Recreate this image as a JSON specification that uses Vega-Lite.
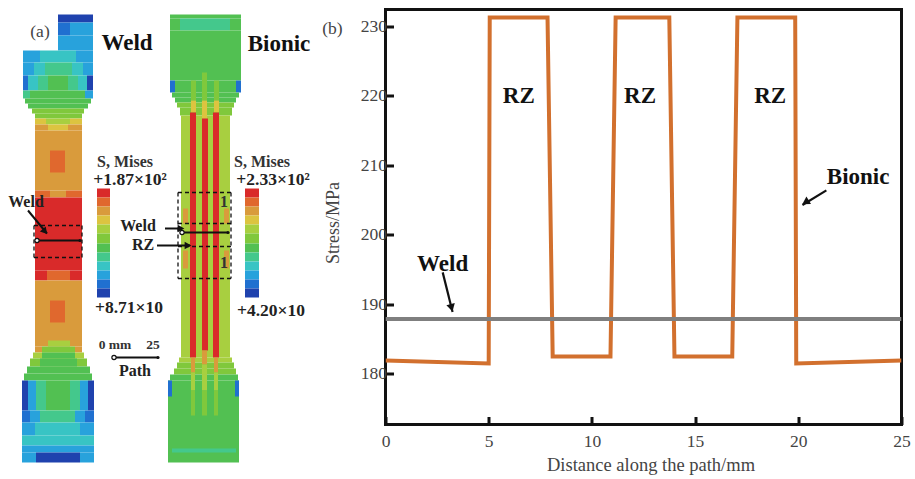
{
"$schema":"https://vega.github.io/schema/vega-lite/v6.json",
"padding":{"left":0,"top":7.5,"right":0,"bottom":0},
"background":"white",
"spacing":0.5,
"resolve":{"scale":{"color":"independent"}},
"config":{"font":"Liberation Serif","text":{"font":"Liberation Serif"}},
"datasets":{
"field":[
{"part":"Weld","x":58,"x2":93,"y":14,"y2":22,"s":1},{"part":"Weld","x":58,"x2":70,"y":22,"y2":35,"s":2},{"part":"Weld","x":70,"x2":93,"y":22,"y2":35,"s":3},{"part":"Weld","x":58,"x2":93,"y":35,"y2":50,"s":3},
{"part":"Weld","x":23,"x2":40,"y":50,"y2":62,"s":3},{"part":"Weld","x":40,"x2":76,"y":50,"y2":62,"s":4},{"part":"Weld","x":76,"x2":93,"y":50,"y2":62,"s":3},
{"part":"Weld","x":23,"x2":34,"y":62,"y2":75,"s":3},{"part":"Weld","x":34,"x2":45,"y":62,"y2":75,"s":4},{"part":"Weld","x":45,"x2":72,"y":62,"y2":75,"s":5},{"part":"Weld","x":72,"x2":83,"y":62,"y2":75,"s":4},{"part":"Weld","x":83,"x2":93,"y":62,"y2":75,"s":3},
{"part":"Weld","x":23,"x2":28,"y":75,"y2":90,"s":2},{"part":"Weld","x":28,"x2":38,"y":75,"y2":90,"s":4},{"part":"Weld","x":38,"x2":48,"y":75,"y2":90,"s":5},{"part":"Weld","x":48,"x2":68,"y":75,"y2":90,"s":6},{"part":"Weld","x":68,"x2":78,"y":75,"y2":90,"s":5},{"part":"Weld","x":78,"x2":87,"y":75,"y2":90,"s":4},{"part":"Weld","x":87,"x2":93,"y":75,"y2":90,"s":1},
{"part":"Weld","x":23,"x2":30,"y":90,"y2":98,"s":5},{"part":"Weld","x":30,"x2":85,"y":90,"y2":98,"s":6},{"part":"Weld","x":85,"x2":93,"y":90,"y2":98,"s":3},
{"part":"Weld","x":25,"x2":91,"y":98,"y2":103,"s":6},{"part":"Weld","x":28,"x2":88,"y":103,"y2":108,"s":6},{"part":"Weld","x":32,"x2":84,"y":108,"y2":113,"s":7},{"part":"Weld","x":35,"x2":82,"y":113,"y2":118,"s":7},
{"part":"Weld","x":35,"x2":46,"y":118,"y2":124,"s":9},{"part":"Weld","x":46,"x2":70,"y":118,"y2":124,"s":8},{"part":"Weld","x":70,"x2":82,"y":118,"y2":124,"s":9},
{"part":"Weld","x":35,"x2":48,"y":124,"y2":130,"s":10},{"part":"Weld","x":48,"x2":68,"y":124,"y2":130,"s":9},{"part":"Weld","x":68,"x2":82,"y":124,"y2":130,"s":10},
{"part":"Weld","x":35,"x2":82,"y":130,"y2":190,"s":10},{"part":"Weld","x":50,"x2":65,"y":150,"y2":172,"s":11},
{"part":"Weld","x":35,"x2":50,"y":190,"y2":197,"s":11},{"part":"Weld","x":50,"x2":66,"y":190,"y2":197,"s":10},{"part":"Weld","x":66,"x2":82,"y":190,"y2":197,"s":11},
{"part":"Weld","x":35,"x2":82,"y":197,"y2":270,"s":12},
{"part":"Weld","x":35,"x2":47,"y":270,"y2":280,"s":12},{"part":"Weld","x":47,"x2":70,"y":270,"y2":280,"s":11},{"part":"Weld","x":70,"x2":82,"y":270,"y2":280,"s":12},
{"part":"Weld","x":35,"x2":82,"y":280,"y2":346,"s":10},{"part":"Weld","x":50,"x2":65,"y":300,"y2":322,"s":11},{"part":"Weld","x":48,"x2":70,"y":340,"y2":346,"s":8},
{"part":"Weld","x":35,"x2":42,"y":346,"y2":352,"s":10},{"part":"Weld","x":42,"x2":75,"y":346,"y2":352,"s":7},{"part":"Weld","x":75,"x2":82,"y":346,"y2":352,"s":10},
{"part":"Weld","x":33,"x2":84,"y":352,"y2":358,"s":8},{"part":"Weld","x":42,"x2":75,"y":352,"y2":358,"s":6},
{"part":"Weld","x":30,"x2":87,"y":358,"y2":366,"s":7},{"part":"Weld","x":40,"x2":77,"y":358,"y2":366,"s":6},
{"part":"Weld","x":27,"x2":90,"y":366,"y2":373,"s":6},{"part":"Weld","x":24,"x2":92,"y":373,"y2":380,"s":6},
{"part":"Weld","x":22,"x2":28,"y":380,"y2":410,"s":1},{"part":"Weld","x":28,"x2":36,"y":380,"y2":410,"s":3},{"part":"Weld","x":36,"x2":46,"y":380,"y2":410,"s":5},{"part":"Weld","x":46,"x2":70,"y":380,"y2":410,"s":6},{"part":"Weld","x":70,"x2":80,"y":380,"y2":410,"s":5},{"part":"Weld","x":80,"x2":88,"y":380,"y2":410,"s":3},{"part":"Weld","x":88,"x2":94,"y":380,"y2":410,"s":1},
{"part":"Weld","x":22,"x2":30,"y":410,"y2":422,"s":2},{"part":"Weld","x":30,"x2":40,"y":410,"y2":422,"s":3},{"part":"Weld","x":40,"x2":75,"y":410,"y2":422,"s":5},{"part":"Weld","x":75,"x2":85,"y":410,"y2":422,"s":3},{"part":"Weld","x":85,"x2":94,"y":410,"y2":422,"s":2},
{"part":"Weld","x":22,"x2":35,"y":422,"y2":435,"s":3},{"part":"Weld","x":35,"x2":80,"y":422,"y2":435,"s":4},{"part":"Weld","x":80,"x2":94,"y":422,"y2":435,"s":3},
{"part":"Weld","x":22,"x2":94,"y":435,"y2":445,"s":4},{"part":"Weld","x":22,"x2":94,"y":445,"y2":452,"s":3},
{"part":"Weld","x":22,"x2":36,"y":452,"y2":462,"s":3},{"part":"Weld","x":36,"x2":80,"y":452,"y2":462,"s":1},{"part":"Weld","x":80,"x2":94,"y":452,"y2":462,"s":3},

{"part":"Bionic","x":170,"x2":241,"y":14,"y2":18,"s":6},{"part":"Bionic","x":170,"x2":180,"y":18,"y2":30,"s":6},{"part":"Bionic","x":180,"x2":230,"y":18,"y2":30,"s":5},{"part":"Bionic","x":230,"x2":241,"y":18,"y2":30,"s":6},
{"part":"Bionic","x":170,"x2":241,"y":30,"y2":80,"s":6},
{"part":"Bionic","x":170,"x2":175,"y":80,"y2":92,"s":2},{"part":"Bionic","x":175,"x2":236,"y":80,"y2":92,"s":6},{"part":"Bionic","x":236,"x2":241,"y":80,"y2":92,"s":2},
{"part":"Bionic","x":172,"x2":239,"y":92,"y2":97,"s":6},{"part":"Bionic","x":175,"x2":236,"y":97,"y2":102,"s":6},{"part":"Bionic","x":177,"x2":234,"y":102,"y2":107,"s":7},{"part":"Bionic","x":180,"x2":232,"y":107,"y2":115,"s":7},
{"part":"Bionic","x":181,"x2":230,"y":115,"y2":357,"s":8},
{"part":"Bionic","x":179,"x2":232,"y":357,"y2":362,"s":8},{"part":"Bionic","x":177,"x2":234,"y":362,"y2":368,"s":7},{"part":"Bionic","x":174,"x2":236,"y":368,"y2":374,"s":7},{"part":"Bionic","x":170,"x2":238,"y":374,"y2":380,"s":6},
{"part":"Bionic","x":168,"x2":239,"y":380,"y2":462,"s":6},{"part":"Bionic","x":168,"x2":172,"y":380,"y2":396,"s":2},{"part":"Bionic","x":235,"x2":239,"y":380,"y2":396,"s":2},{"part":"Bionic","x":172,"x2":236,"y":448,"y2":452,"s":5},
{"part":"Bionic","x":191,"x2":196,"y":80,"y2":100,"s":7},{"part":"Bionic","x":202,"x2":207,"y":72,"y2":100,"s":7},{"part":"Bionic","x":214,"x2":219,"y":80,"y2":100,"s":7},
{"part":"Bionic","x":191,"x2":196,"y":100,"y2":112,"s":9},{"part":"Bionic","x":202,"x2":207,"y":100,"y2":118,"s":9},{"part":"Bionic","x":214,"x2":219,"y":100,"y2":112,"s":9},
{"part":"Bionic","x":190,"x2":196,"y":112,"y2":357,"s":12},{"part":"Bionic","x":202,"x2":208,"y":118,"y2":350,"s":12},{"part":"Bionic","x":213,"x2":219,"y":112,"y2":357,"s":12},
{"part":"Bionic","x":191,"x2":195,"y":357,"y2":372,"s":10},{"part":"Bionic","x":202,"x2":207,"y":350,"y2":364,"s":10},{"part":"Bionic","x":214,"x2":218,"y":357,"y2":372,"s":10},
{"part":"Bionic","x":191,"x2":195,"y":372,"y2":390,"s":8},{"part":"Bionic","x":202,"x2":207,"y":364,"y2":390,"s":8},{"part":"Bionic","x":214,"x2":218,"y":372,"y2":390,"s":8},
{"part":"Bionic","x":191,"x2":195,"y":390,"y2":415,"s":7},{"part":"Bionic","x":202,"x2":207,"y":390,"y2":415,"s":7},{"part":"Bionic","x":214,"x2":218,"y":390,"y2":415,"s":7},
{"part":"Bionic","x":183,"x2":188,"y":208,"y2":223,"s":10},{"part":"Bionic","x":224,"x2":229,"y":208,"y2":223,"s":10},{"part":"Bionic","x":183,"x2":188,"y":250,"y2":268,"s":10},{"part":"Bionic","x":224,"x2":229,"y":250,"y2":268,"s":10},

{"part":"Key","x":97,"x2":110,"y":188,"y2":197,"s":12},{"part":"Key","x":97,"x2":110,"y":197,"y2":206,"s":11},{"part":"Key","x":97,"x2":110,"y":206,"y2":215,"s":10},{"part":"Key","x":97,"x2":110,"y":215,"y2":224,"s":9},{"part":"Key","x":97,"x2":110,"y":224,"y2":233,"s":8},{"part":"Key","x":97,"x2":110,"y":233,"y2":243,"s":7},{"part":"Key","x":97,"x2":110,"y":243,"y2":252,"s":6},{"part":"Key","x":97,"x2":110,"y":252,"y2":261,"s":5},{"part":"Key","x":97,"x2":110,"y":261,"y2":270,"s":4},{"part":"Key","x":97,"x2":110,"y":270,"y2":279,"s":3},{"part":"Key","x":97,"x2":110,"y":279,"y2":288,"s":2},{"part":"Key","x":97,"x2":110,"y":288,"y2":297,"s":1},
{"part":"Key","x":245,"x2":259,"y":188,"y2":197,"s":12},{"part":"Key","x":245,"x2":259,"y":197,"y2":206,"s":11},{"part":"Key","x":245,"x2":259,"y":206,"y2":215,"s":10},{"part":"Key","x":245,"x2":259,"y":215,"y2":224,"s":9},{"part":"Key","x":245,"x2":259,"y":224,"y2":233,"s":8},{"part":"Key","x":245,"x2":259,"y":233,"y2":243,"s":7},{"part":"Key","x":245,"x2":259,"y":243,"y2":252,"s":6},{"part":"Key","x":245,"x2":259,"y":252,"y2":261,"s":5},{"part":"Key","x":245,"x2":259,"y":261,"y2":270,"s":4},{"part":"Key","x":245,"x2":259,"y":270,"y2":279,"s":3},{"part":"Key","x":245,"x2":259,"y":279,"y2":288,"s":2},{"part":"Key","x":245,"x2":259,"y":288,"y2":297,"s":1}
],
"stress":[
{"series":"Bionic","d":0,"v":181.9},{"series":"Bionic","d":5.0,"v":181.5},{"series":"Bionic","d":5.05,"v":231.3},{"series":"Bionic","d":7.85,"v":231.3},{"series":"Bionic","d":8.1,"v":182.5},{"series":"Bionic","d":10.9,"v":182.5},{"series":"Bionic","d":11.15,"v":231.3},{"series":"Bionic","d":13.75,"v":231.3},{"series":"Bionic","d":14.0,"v":182.5},{"series":"Bionic","d":16.8,"v":182.5},{"series":"Bionic","d":17.05,"v":231.3},{"series":"Bionic","d":19.85,"v":231.3},{"series":"Bionic","d":19.9,"v":181.5},{"series":"Bionic","d":25,"v":181.9},
{"series":"Weld","d":0,"v":187.9},{"series":"Weld","d":25,"v":187.9}
]
},
"hconcat":[
{"width":320,"height":415,"view":{"stroke":null},
"encoding":{
"x":{"field":"x","type":"quantitative","scale":{"domain":[0,320],"nice":false,"zero":false},"axis":null},
"y":{"field":"y","type":"quantitative","scale":{"domain":[424,9],"nice":false,"zero":false},"axis":null}},
"layer":[
{"data":{"name":"field"},"mark":{"type":"rect","clip":false},
"encoding":{"x2":{"field":"x2"},"y2":{"field":"y2"},
"color":{"field":"s","type":"ordinal","legend":null,"scale":{"domain":[1,2,3,4,5,6,7,8,9,10,11,12],"range":["#1f42ae","#2070d0","#28a2dc","#38c4c4","#44c88c","#52c052","#80c83c","#a8cf40","#dcc440","#d99b3c","#e0682e","#d92a2a"]}}}},
{"data":{"values":[
{"x":34,"x2":82,"y":225,"y2":225},{"x":34,"x2":82,"y":257,"y2":257},{"x":34,"x2":34,"y":225,"y2":257},{"x":82,"x2":82,"y":225,"y2":257},
{"x":178,"x2":231,"y":192,"y2":192},{"x":178,"x2":231,"y":223,"y2":223},{"x":178,"x2":231,"y":246,"y2":246},{"x":178,"x2":231,"y":278,"y2":278},{"x":178,"x2":178,"y":192,"y2":278},{"x":231,"x2":231,"y":192,"y2":278}]},
"mark":{"type":"rule","color":"#111","strokeWidth":1.3,"strokeDash":[4,3]},"encoding":{"x2":{"field":"x2"},"y2":{"field":"y2"}}},
{"data":{"values":[
{"x":37,"x2":80,"y":240,"y2":240},{"x":182,"x2":228,"y":232,"y2":232},{"x":114,"x2":158,"y":357,"y2":357},
{"x":28,"x2":47,"y":210,"y2":233},{"x":165,"x2":181,"y":228,"y2":228},{"x":157,"x2":190,"y":245,"y2":245}]},
"mark":{"type":"rule","color":"#111","strokeWidth":2},"encoding":{"x2":{"field":"x2"},"y2":{"field":"y2"}}},
{"data":{"values":[{"x":37,"y":240},{"x":182,"y":232},{"x":114,"y":357}]},"mark":{"type":"point","shape":"circle","size":18,"color":"#111","filled":false,"fill":"white","strokeWidth":1.2,"opacity":1}},
{"data":{"values":[{"x":80,"y":240},{"x":228,"y":232},{"x":158,"y":357}]},"mark":{"type":"point","shape":"circle","size":10,"color":"#111","filled":true,"opacity":1}},
{"data":{"values":[{"x":181,"y":228},{"x":188,"y":245}]},"mark":{"type":"point","shape":"triangle-up","angle":90,"size":60,"color":"#111","filled":true,"opacity":1}},
{"data":{"values":[{"x":45,"y":231}]},"mark":{"type":"point","shape":"triangle-up","angle":139,"size":60,"color":"#111","filled":true,"opacity":1}},
{"data":{"values":[{"t":"Weld","x":127,"y":42},{"t":"Bionic","x":279,"y":43}]},"mark":{"type":"text","fontWeight":"bold","fontSize":23,"color":"#111"},"encoding":{"text":{"field":"t"}}},
{"data":{"values":[{"t":"+1.87×10²","x":130,"y":179},{"t":"+2.33×10²","x":273,"y":179},{"t":"+8.71×10","x":129,"y":307},{"t":"+4.20×10","x":271,"y":310}]},"mark":{"type":"text","fontWeight":"bold","fontSize":17.5,"color":"#222"},"encoding":{"text":{"field":"t"}}},
{"data":{"values":[{"t":"Weld","x":26,"y":201},{"t":"Weld","x":138,"y":225},{"t":"RZ","x":143,"y":244},{"t":"Path","x":135,"y":370}]},"mark":{"type":"text","fontWeight":"bold","fontSize":16,"color":"#222"},"encoding":{"text":{"field":"t"}}},
{"data":{"values":[{"t":"S, Mises","x":125,"y":161},{"t":"S, Mises","x":262,"y":161},{"t":"1","x":224,"y":201},{"t":"1","x":224,"y":262}]},"mark":{"type":"text","fontWeight":"bold","fontSize":16,"color":"#333"},"encoding":{"text":{"field":"t"}}},
{"data":{"values":[{"t":"0 mm","x":115,"y":344},{"t":"25","x":153,"y":344}]},"mark":{"type":"text","fontWeight":"bold","fontSize":13.5,"color":"#333"},"encoding":{"text":{"field":"t"}}},
{"data":{"values":[{"t":"(a)","x":40,"y":31}]},"mark":{"type":"text","fontSize":17.5,"color":"#444"},"encoding":{"text":{"field":"t"}}}
]},
{"width":516,"height":415,"view":{"stroke":"#111","strokeWidth":3},
"encoding":{
"x":{"field":"d","type":"quantitative","title":"Distance along the path/mm","scale":{"domain":[0,25],"nice":false},
"axis":{"values":[0,5,10,15,20,25],"grid":false,"domain":false,"tickSize":-8,"tickWidth":3,"tickColor":"#111","labelFontSize":17.5,"labelColor":"#444","labelFont":"Liberation Serif","labelPadding":16,"labelFlush":false,"labelOverlap":false,"titleFont":"Liberation Serif","titleFontSize":18.5,"titleFontWeight":"normal","titleColor":"#444","titlePadding":5,"titleX":265}},
"y":{"field":"v","type":"quantitative","title":"Stress/MPa","scale":{"domain":[172.7,232.45],"nice":false,"zero":false},
"axis":{"values":[180,190,200,210,220,230],"grid":false,"domain":false,"tickSize":-8,"tickWidth":3,"tickColor":"#111","labelFontSize":17.5,"labelColor":"#444","labelFont":"Liberation Serif","labelPadding":7,"labelFlush":false,"titleFont":"Liberation Serif","titleFontSize":18,"titleFontWeight":"normal","titleColor":"#444","titlePadding":18,"titleY":213}}},
"layer":[
{"data":{"name":"stress"},"mark":{"type":"line","strokeWidth":4,"clip":true},
"encoding":{"color":{"field":"series","type":"nominal","legend":null,"scale":{"domain":["Bionic","Weld"],"range":["#d2702e","#7f7f7f"]}},"order":{"field":"series"}}},
{"data":{"values":[{"d":2.77,"v":194.6,"d2":3.25,"v2":188.9},{"d":21.36,"v":206.4,"d2":20.2,"v2":204.3}]},
"mark":{"type":"rule","color":"#111","strokeWidth":2.2},"encoding":{"x2":{"field":"d2"},"y2":{"field":"v2"}}},
{"data":{"values":[{"d":3.2,"v":189.5}]},"mark":{"type":"point","shape":"triangle-up","angle":165,"size":75,"color":"#111","filled":true,"opacity":1}},
{"data":{"values":[{"d":20.35,"v":204.7}]},"mark":{"type":"point","shape":"triangle-up","angle":238,"size":75,"color":"#111","filled":true,"opacity":1}},
{"data":{"values":[{"t":"RZ","d":6.46,"v":220},{"t":"RZ","d":12.33,"v":220},{"t":"RZ","d":18.64,"v":220},{"t":"Weld","d":2.77,"v":195.8},{"t":"Bionic","d":22.9,"v":208.3}]},"mark":{"type":"text","fontWeight":"bold","fontSize":23,"color":"#111"},"encoding":{"text":{"field":"t"}}},
{"data":{"values":[{"t":"(b)","d":-2.57,"v":229.7}]},"mark":{"type":"text","fontSize":17.5,"color":"#444"},"encoding":{"text":{"field":"t"}}}
]}
]
}
